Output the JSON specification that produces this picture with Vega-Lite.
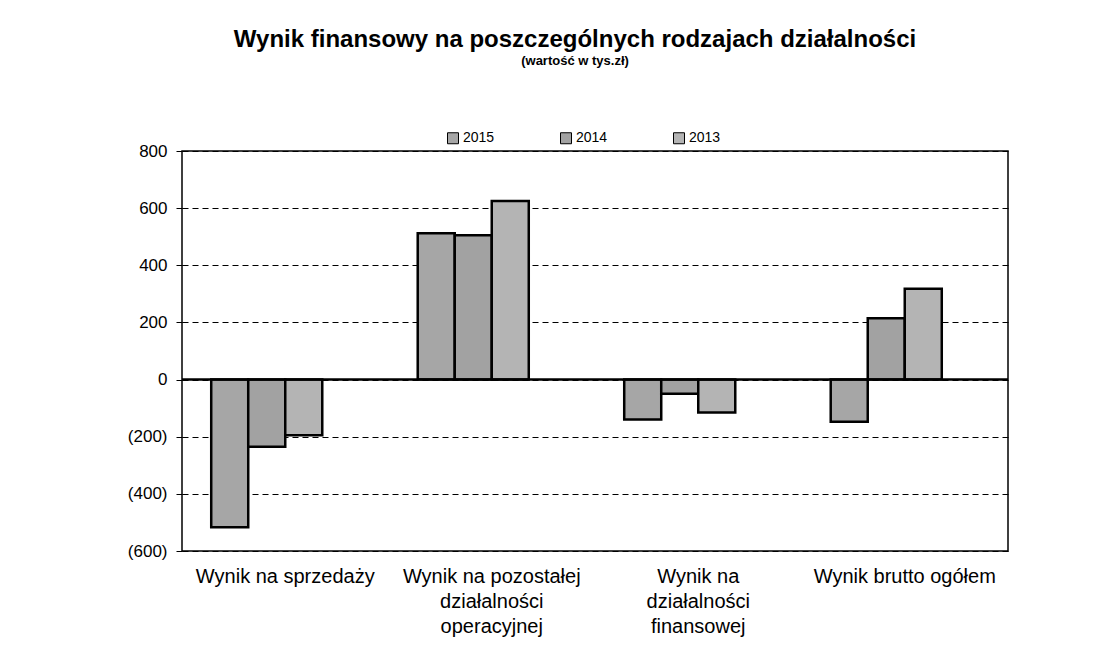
{
  "$schema": "https://vega.github.io/schema/vega-lite/v6.json",
  "autosize": {"type": "none"},
  "padding": {"left": 182, "top": 151, "right": 110, "bottom": 109},
  "width": 826,
  "height": 400,
  "background": "white",
  "title": {
    "text": "Wynik finansowy na poszczególnych rodzajach działalności",
    "subtitle": "(wartość w tys.zł)",
    "anchor": "middle",
    "frame": "group",
    "font": "Liberation Sans",
    "fontSize": 24,
    "fontWeight": "bold",
    "color": "black",
    "subtitleFont": "Liberation Sans",
    "subtitleFontSize": 13,
    "subtitleFontWeight": "bold",
    "subtitleColor": "black",
    "subtitlePadding": 3,
    "offset": 63,
    "dx": -20
  },
  "config": {
    "view": {"stroke": "black", "strokeWidth": 1.5},
    "font": "Liberation Sans"
  },
  "layer": [
    {
      "data": {
        "values": [
          {"kategoria": "Wynik na sprzedaży", "rok": "2015", "wartosc": -517},
          {"kategoria": "Wynik na sprzedaży", "rok": "2014", "wartosc": -235},
          {"kategoria": "Wynik na sprzedaży", "rok": "2013", "wartosc": -195},
          {"kategoria": "Wynik na pozostałej|działalności|operacyjnej", "rok": "2015", "wartosc": 512},
          {"kategoria": "Wynik na pozostałej|działalności|operacyjnej", "rok": "2014", "wartosc": 505},
          {"kategoria": "Wynik na pozostałej|działalności|operacyjnej", "rok": "2013", "wartosc": 625},
          {"kategoria": "Wynik na|działalności|finansowej", "rok": "2015", "wartosc": -140},
          {"kategoria": "Wynik na|działalności|finansowej", "rok": "2014", "wartosc": -50},
          {"kategoria": "Wynik na|działalności|finansowej", "rok": "2013", "wartosc": -115},
          {"kategoria": "Wynik brutto ogółem", "rok": "2015", "wartosc": -148},
          {"kategoria": "Wynik brutto ogółem", "rok": "2014", "wartosc": 215},
          {"kategoria": "Wynik brutto ogółem", "rok": "2013", "wartosc": 318}
        ]
      },
      "mark": {"type": "bar", "stroke": "black", "strokeWidth": 2.5},
      "encoding": {
        "x": {
          "field": "kategoria",
          "type": "nominal",
          "sort": null,
          "scale": {"paddingInner": 0.283, "paddingOuter": 0.1415},
          "axis": {
            "title": null,
            "labelAngle": 0,
            "labelExpr": "split(datum.label, '|')",
            "labelFontSize": 20,
            "labelColor": "black",
            "labelLineHeight": 25,
            "labelPadding": 15,
            "labelLimit": 300,
            "ticks": false,
            "domain": false
          }
        },
        "xOffset": {
          "field": "rok",
          "type": "nominal",
          "scale": {"domain": ["2015", "2014", "2013", "2012"], "paddingInner": 0, "paddingOuter": 0}
        },
        "y": {
          "field": "wartosc",
          "type": "quantitative",
          "scale": {"domain": [-600, 800], "nice": false, "zero": false},
          "axis": {
            "title": null,
            "values": [-600, -400, -200, 0, 200, 400, 600, 800],
            "labelExpr": "datum.value < 0 ? '(' + format(-datum.value, 'd') + ')' : format(datum.value, 'd')",
            "labelFontSize": 17,
            "labelColor": "black",
            "labelPadding": 9,
            "tickColor": "black",
            "tickSize": 6,
            "domain": false,
            "grid": true,
            "gridColor": "black",
            "gridDash": [6, 4],
            "gridWidth": 1.2,
            "gridOpacity": 1
          }
        },
        "fill": {
          "field": "rok",
          "type": "nominal",
          "scale": {"domain": ["2015", "2014", "2013"], "range": ["#a6a6a6", "#a2a2a2", "#b4b4b4"]},
          "legend": {
            "title": null,
            "orient": "none",
            "direction": "horizontal",
            "legendX": 264,
            "legendY": -20,
            "symbolType": "square",
            "symbolSize": 121,
            "symbolStrokeColor": "black",
            "symbolStrokeWidth": 1,
            "symbolOpacity": 1,
            "labelFontSize": 14,
            "labelColor": "black",
            "labelOffset": 3,
            "columnPadding": 63
          }
        }
      }
    },
    {
      "data": {"values": [{"zero": 0}]},
      "mark": {"type": "rule", "color": "black", "strokeWidth": 2.5},
      "encoding": {
        "y": {"field": "zero", "type": "quantitative"}
      }
    }
  ]
}
